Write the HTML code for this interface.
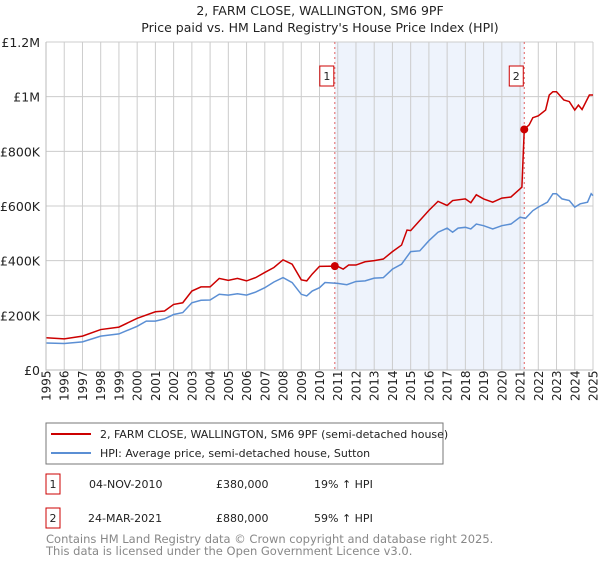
<!DOCTYPE html>
<html><head><meta charset="utf-8"><style>
body{margin:0;background:#fff;font-family:"Liberation Sans","DejaVu Sans",sans-serif;}
svg text{font-family:"DejaVu Sans","Liberation Sans",sans-serif;}
</style></head><body>
<svg id="c" width="600" height="560" xmlns="http://www.w3.org/2000/svg">
<text x="320" y="15" text-anchor="middle" font-size="12.5" fill="#222">2, FARM CLOSE, WALLINGTON, SM6 9PF</text>
<text x="320" y="32" text-anchor="middle" font-size="12.5" fill="#222">Price paid vs. HM Land Registry's House Price Index (HPI)</text>
<g id="plot"></g>
<g>
<rect x="46" y="423" width="397" height="41" fill="#fff" stroke="#777"/>
<line x1="51" y1="434" x2="91" y2="434" stroke="#cc0000" stroke-width="2"/>
<text x="100" y="438" font-size="11" fill="#222">2, FARM CLOSE, WALLINGTON, SM6 9PF (semi-detached house)</text>
<line x1="51" y1="453" x2="91" y2="453" stroke="#5b8fd4" stroke-width="2"/>
<text x="100" y="457" font-size="11" fill="#222">HPI: Average price, semi-detached house, Sutton</text>
</g>
<g font-size="11" fill="#222">
<rect x="46" y="474" width="14" height="20" fill="#fff" stroke="#cc0000"/>
<text x="53" y="488" text-anchor="middle">1</text>
<text x="89" y="488">04-NOV-2010</text><text x="216" y="488">£380,000</text><text x="314" y="488">19% ↑ HPI</text>
<rect x="46" y="508" width="14" height="20" fill="#fff" stroke="#cc0000"/>
<text x="53" y="522" text-anchor="middle">2</text>
<text x="88" y="522">24-MAR-2021</text><text x="216" y="522">£880,000</text><text x="314" y="522">59% ↑ HPI</text>
</g>
<text x="46" y="543" font-size="11.5" fill="#888">Contains HM Land Registry data © Crown copyright and database right 2025.</text>
<text x="46" y="555" font-size="11.5" fill="#888">This data is licensed under the Open Government Licence v3.0.</text>
</svg>
<script>
const yTicks=[0,200,400,600,800,1000,1200];
const yTickLabels=["£0","£200K","£400K","£600K","£800K","£1M","£1.2M"];
const years=[1995,1996,1997,1998,1999,2000,2001,2002,2003,2004,2005,2006,2007,2008,2009,2010,2011,2012,2013,2014,2015,2016,2017,2018,2019,2020,2021,2022,2023,2024,2025];
const hpiT=[1995,1996,1997,1998,1999,2000,2000.5,2001,2001.5,2002,2002.5,2003,2003.5,2004,2004.5,2005,2005.5,2006,2006.5,2007,2007.5,2008,2008.5,2009,2009.3,2009.6,2010,2010.3,2011,2011.5,2012,2012.5,2013,2013.5,2014,2014.5,2015,2015.5,2016,2016.5,2017,2017.3,2017.6,2018,2018.3,2018.6,2019,2019.5,2020,2020.5,2021,2021.3,2021.7,2022,2022.5,2022.8,2023,2023.3,2023.7,2024,2024.3,2024.7,2024.9,2025];
const hpiV=[99,97,103,124,132,160,179,179,187,203,210,246,255,256,277,274,279,274,285,301,322,338,320,277,271,289,301,320,317,312,324,326,336,338,369,387,433,436,473,504,519,504,519,522,516,534,528,516,528,534,559,555,583,596,614,645,645,626,620,596,608,614,645,638];
const priceT=[1995,1996,1997,1998,1999,2000,2001,2001.5,2002,2002.5,2003,2003.5,2004,2004.5,2005,2005.5,2006,2006.5,2007,2007.5,2008,2008.5,2009,2009.3,2009.6,2010,2010.84,2011,2011.3,2011.6,2012,2012.5,2013,2013.5,2014,2014.5,2014.8,2015,2015.5,2016,2016.5,2017,2017.3,2018,2018.3,2018.6,2019,2019.5,2020,2020.5,2021.1,2021.23,2021.5,2021.7,2022,2022.4,2022.6,2022.8,2023,2023.4,2023.7,2024,2024.2,2024.4,2024.8,2025];
const priceV=[118,114,124,148,157,189,213,216,240,246,289,304,304,335,328,335,326,338,357,375,403,387,330,326,351,379,380,379,369,384,384,396,400,406,433,457,512,510,547,584,617,602,620,626,612,641,626,614,629,633,669,880,897,923,930,951,1006,1018,1018,988,982,951,969,953,1006,1006];
const saleT=[2010.84,2021.23];
const saleV=[380,880];
const saleLabels=["1","2"];
const X0=46,X1=593,Y0=370,Y1=42;
const xs=t=>X0+(t-1995)/30*(X1-X0);
const ys=v=>Y0-v/1200*(Y0-Y1);
const NS="http://www.w3.org/2000/svg";
const g=document.getElementById('plot');
function mk(tag,at){const e=document.createElementNS(NS,tag);for(const k in at)e.setAttribute(k,at[k]);g.appendChild(e);return e;}
let r=mk('rect',{x:xs(saleT[0]),y:Y1,width:xs(saleT[1])-xs(saleT[0]),height:Y0-Y1,fill:'#eef3fc'});


years.forEach(y=>{const l=mk('line',{x1:xs(y),x2:xs(y),y1:Y1,y2:Y0,stroke:'#ccc','stroke-width':1});


const t=mk('text',{x:0,y:0,transform:`translate(${xs(y)+4.5},${Y0+31}) rotate(-90)`,'font-size':12,fill:'#222'});t.textContent=y;

});
yTicks.forEach((v,i)=>{const l=mk('line',{x1:X0,x2:X1,y1:ys(v),y2:ys(v),stroke:'#ccc','stroke-width':1});


const t=mk('text',{x:X0-6,y:ys(v)+5,'text-anchor':'end','font-size':12.5,fill:'#222'});t.textContent=yTickLabels[i];

});
saleT.forEach((t,i)=>{const l=mk('line',{x1:xs(t),x2:xs(t),y1:Y1,y2:Y0,stroke:'#e06060','stroke-dasharray':'2,3','stroke-width':1});


const b=mk('rect',{x:xs(t)-15,y:66,width:14,height:20,fill:'#fff',stroke:'#cc0000'});


const tx=mk('text',{x:xs(t)-8,y:80,'text-anchor':'middle','font-size':11,fill:'#222'});tx.textContent=saleLabels[i];

});
const hp=mk('polyline',{points:hpiT.map((t,i)=>xs(t)+','+ys(hpiV[i])).join(' '),fill:'none',stroke:'#5b8fd4','stroke-width':1.5});


const pp=mk('polyline',{points:priceT.map((t,i)=>xs(t)+','+ys(priceV[i])).join(' '),fill:'none',stroke:'#cc0000','stroke-width':1.5});


saleT.forEach((t,i)=>{const c=mk('circle',{cx:xs(t),cy:ys(saleV[i]),r:4,fill:'#cc0000'});

});
const ax=mk('polyline',{points:`${X0},${Y1} ${X0},${Y0} ${X1},${Y0}`,fill:'none',stroke:'#bbb'});


</script>
</body></html>
